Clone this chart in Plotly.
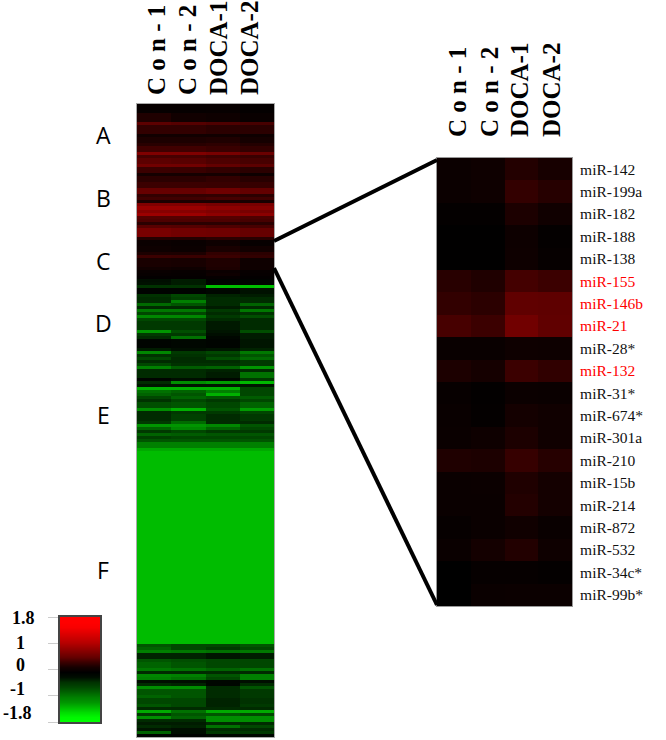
import plotly.graph_objects as go

W, H = 666, 740
samples = ["C o n - 1", "C o n - 2", "DOCA-1", "DOCA-2"]
columns = [0, 1, 2, 3]
main_label_at = [0.09, 0.99, 1.89, 2.80]
inset_label_at = [0.12, 1.07, 1.96, 2.91]

# (rows, Con-1, Con-2, DOCA-1, DOCA-2)
bands_upper = [
 (3,.04,.04,.05,.03),(3,.22,.12,.1,.06),(1,.65,.6,.55,.5),(3,.35,.35,.3,.3),(1,.12,.12,.12,.1),
 (2,.2,.2,.22,.15),(1,.28,.28,.32,.25),(2,.45,.45,.4,.35),(1,.9,.9,.85,.75),(1,.5,.5,.45,.4),
 (2,.65,.62,.55,.5),(1,.8,.8,.7,.65),(2,.42,.4,.35,.3),(1,.15,.15,.15,.1),(2,.3,.3,.35,.28),
 (2,.42,.42,.4,.38),(2,.72,.72,.78,.7),(1,.35,.35,.35,.3),(1,.45,.45,.5,.45),(1,.2,.2,.2,.18),
 (1,.9,.9,.85,.85),(1,1.08,1.08,1.0,.95),(1,.95,.95,.9,.85),(1,1.1,1.1,1.0,.98),(1,.6,.6,.6,.55),(1,.55,.55,.55,.5),(1,.3,.3,.3,.3),
 (1,.62,.6,.55,.5),(3,.85,.8,.78,.72),(1,.25,.25,.3,.28),
 (2,.08,.06,.1,.05),(2,.1,.08,.18,.12),
 (1,.2,.2,.35,.3),(1,.42,.4,.42,.35),(3,.18,.16,.22,.1),(1,.12,.1,.2,.1),(1,.06,.05,.08,.05),
 (1,.05,.04,.1,.04),(1,.02,.03,.04,.02),(1,-.1,-.2,-.02,-.02),(1,-.12,-.2,-.03,-.02),
]
bands_upper2 = [
 (1,-.35,-.35,-1.35,-1.35),(2,-.02,-.02,-.05,-.12),(1,-.35,-.5,-.25,-.2),(1,-.3,-.45,-.3,-.3),
 (1,-.3,-.9,-.3,-.3),(1,-.75,-.6,-.3,-.7),(1,-.3,-.3,-.2,-.3),(1,-.85,-.85,-.4,-.85),
 (1,-.5,-.5,-.3,-.35),(1,-.95,-.95,-.4,-.55),(1,-.5,-.5,-.3,-.3),(3,-.4,-.4,-.18,-.3),
 (1,-1.05,-.55,-.15,-.55),(1,-.4,-.4,-.1,-.2),(1,-.3,-.8,-.05,-.2),(3,-.03,-.05,-.03,-.15),
 (1,-.2,-.1,-.15,-.25),(1,-.95,-.4,-.5,-.85),(1,-.35,-.35,-.4,-.6),(1,-.5,-.3,-.55,-.75),
 (1,-.3,-.3,-.3,-.4),(1,-.5,-.35,-.35,-.4),(1,-.9,-.65,-.7,-1.05),(1,-.3,-.3,-.25,-.3),
 (2,-.3,-.3,-.2,-.8),(1,-.03,-.1,-.05,-.4),(1,-.3,-1.0,-1.1,-1.3),(1,-.15,-.15,-.15,-.15),
 (1,-1.25,-1.25,-1.25,-.5),(1,-.8,-.7,-.9,-.5),(1,-.7,-.6,-1.25,-.5),(1,-.5,-.7,-.6,-.65),
 (1,-.35,-.5,-.4,-.5),(2,-.55,-.6,-.5,-.7),(1,-1.0,-1.25,-.6,-1.1),(1,-.3,-.4,-.4,-.5),
 (2,-.3,-.45,-.3,-.4),(1,-.4,-.75,-.3,-.3),(1,-1.05,-1.05,-.95,-.6),(1,-.7,-.95,-.7,-.5),
 (1,-.4,-.5,-.4,-.4),(1,-.7,-.65,-.6,-.6),(1,-.45,-.5,-.5,-.5),(1,-.6,-.6,-.6,-.6),
 (2,-.9,-.9,-.9,-.9),(1,-1.2,-1.2,-1.2,-1.2),
]
bands_f = [(64,-1.33,-1.33,-1.33,-1.33)]
bands_lower = [
 (1,-.6,-.5,-.5,-.6),(1,-.7,-.5,-.4,-.5),(1,-.9,-.85,-.8,-.85),(2,-.25,-.25,-.15,-.2),
 (1,-.6,-.55,-.5,-.5),(2,-.7,-.6,-.5,-.5),(1,-.85,-.8,-.7,-.8),(1,-.3,-.3,-.3,-.3),
 (1,-.95,-.9,-.6,-.9),(1,-.9,-.8,-.5,-.9),(1,-.1,-.1,-.05,-.1),(1,-.3,-.25,-.05,-.3),
 (1,-1,-1,-.3,-.6),(2,-.6,-.6,-.3,-.4),(1,-.7,-.6,-.3,-.4),(2,-.5,-.5,-.25,-.35),
 (1,-.6,-.5,-.25,-.4),(1,-.3,-.3,-.3,-.3),(1,-1.2,-.8,-1.2,-1.2),(1,-.4,-.6,-.6,-.5),
 (1,-1,-.7,-1,-1),(1,-.3,-.3,-1,-1),(1,-.2,-.2,-.3,-.3),(1,-.3,-.25,-.8,-.5),
 (1,-.15,-.1,-.3,-.3),(1,-.7,-.1,-.4,-.4),(1,-.03,-.02,-.05,-.05),
]

mirnas = ["miR-142","miR-199a","miR-182","miR-188","miR-138","miR-155","miR-146b","miR-21","miR-28*","miR-132",
          "miR-31*","miR-674*","miR-301a","miR-210","miR-15b","miR-214","miR-872","miR-532","miR-34c*","miR-99b*"]
highlighted = ["miR-155","miR-146b","miR-21","miR-132"]
con1  = [.08,.08,.03,.01,.01,.28,.35,.5,.06,.2,.05,.06,.07,.22,.07,.07,.04,.07,0,0]
con2  = [.1,.1,.03,.01,.01,.22,.3,.42,.06,.15,.02,.03,.1,.2,.08,.07,.07,.14,.04,.07]
doca1 = [.25,.36,.2,.09,.1,.48,.68,.8,.1,.42,.08,.14,.2,.38,.22,.25,.11,.24,.04,.08]
doca2 = [.16,.27,.11,.03,.04,.42,.66,.68,.09,.34,.07,.11,.11,.27,.14,.14,.06,.1,.03,.08]

legend_levels = [1.8,1.8,1.75,1.6,1.45,1.3,1.1,.9,.7,.4,.15,0,-.1,-.35,-.5,-.7,-.9,-1.05,-1.3,-1.55,-1.75,-1.8]
legend_marks = [1.8,.9,0,-.9,-1.8]
legend_labels = ["1.8","1","0","-1","-1.8"]
letters = ["A","B","C","D","E","F"]

SCALE = [[0,"rgb(0,255,0)"],[.5,"rgb(0,0,0)"],[1,"rgb(255,0,0)"]]

rows = []
for n, a, b, c, d in bands_upper + bands_upper2 + bands_f + bands_lower:
    rows += [[a, b, c, d]] * n
inset = [list(t) for t in zip(con1, con2, doca1, doca2)]

def dom(a, b, size):
    return [a / size, b / size]

def ydom(top, bottom):
    return [1 - bottom / H, 1 - top / H]

fig = go.Figure()
common = dict(zmin=-1.8, zmax=1.8, colorscale=SCALE, showscale=False, hoverongaps=False)
fig.add_trace(go.Heatmap(z=rows, x=columns, y=list(range(len(rows))), xaxis="x", yaxis="y", **common))
fig.add_trace(go.Heatmap(z=inset, x=columns, y=mirnas, xaxis="x2", yaxis="y2", **common))
fig.add_trace(go.Heatmap(z=[[v] for v in legend_levels], x=["scale"],
                         y=[1.8 - 3.6 * i / (len(legend_levels) - 1) for i in range(len(legend_levels))],
                         xaxis="x3", yaxis="y3", zsmooth="best", **common))

top_font = dict(family="Liberation Serif", size=25, color="black")
bold = [f"<b>{n}</b>" for n in samples]
fig.update_layout(
    width=W, height=H, margin=dict(l=0, r=0, t=0, b=0, autoexpand=False), paper_bgcolor="white", plot_bgcolor="white",
    showlegend=False,
    xaxis=dict(domain=dom(137, 274, W), side="top", anchor="y", tickangle=-90, tickfont=top_font, ticks="",
               range=[-.5, 3.5], tickmode="array", tickvals=main_label_at, ticktext=bold, ticklabelstandoff=3,
               automargin=False,
               showgrid=False, zeroline=False, showline=True, mirror=True, linecolor="#aaaaaa", linewidth=1),
    yaxis=dict(domain=ydom(104, 737), autorange="reversed", showticklabels=False, ticks="", showgrid=False,
               zeroline=False, showline=True, mirror=True, linecolor="#aaaaaa", linewidth=1),
    xaxis2=dict(domain=dom(437, 572, W), side="top", anchor="y2", tickangle=-90, tickfont=top_font, ticks="",
                range=[-.5, 3.5], tickmode="array", tickvals=inset_label_at, ticktext=bold, ticklabelstandoff=15,
                automargin=False,
                showgrid=False, zeroline=False, showline=True, mirror=True, linecolor="#999999", linewidth=1),
    yaxis2=dict(domain=ydom(158, 606), anchor="x2", side="right", autorange="reversed", ticks="", showgrid=False,
                zeroline=False, showline=True, mirror=True, linecolor="#999999", linewidth=1, automargin=False,
                tickmode="array", tickvals=mirnas, ticklabelstandoff=4,
                ticktext=[f'<span style="color:#ff0000">{m}</span>' if m in highlighted else m for m in mirnas],
                tickfont=dict(family="Liberation Serif", size=15.5, color="#111111")),
    xaxis3=dict(domain=dom(60, 100, W), anchor="y3", showticklabels=False, ticks="", showgrid=False, zeroline=False,
                showline=True, mirror=True, linecolor="#444444", linewidth=1.5),
    yaxis3=dict(domain=ydom(617, 722), anchor="x3", range=[-1.8, 1.8], tickmode="array", tickvals=legend_marks,
                showticklabels=False, ticks="outside", ticklen=10, tickcolor="#cccccc", showgrid=False,
                zeroline=False, showline=True, mirror=True, linecolor="#444444", linewidth=1.5),
)

# connector lines from the main heat map to the enlarged panel
for x0, y0, x1, y1 in [(274, 241, 437, 160), (274, 268, 437, 605)]:
    fig.add_shape(type="line", xref="paper", yref="paper", x0=x0 / W, x1=x1 / W, y0=1 - y0 / H, y1=1 - y1 / H,
                  line=dict(color="black", width=4))

for t, y in zip(letters, [135, 198, 261, 323, 415, 570]):
    fig.add_annotation(text=t, xref="paper", yref="paper", x=103 / W, y=1 - y / H, showarrow=False,
                       xanchor="center", yanchor="middle", font=dict(family="Open Sans", size=23, color="black"))

for v, x, y in zip(legend_labels, [23, 20, 20, 17, 17], [618, 643, 665, 689, 713]):
    fig.add_annotation(text=f"<b>{v}</b>", xref="paper", yref="paper", x=x / W, y=1 - y / H,
                       showarrow=False, xanchor="center", yanchor="middle",
                       font=dict(family="Liberation Serif", size=18, color="black"))

fig.write_html("out.html", config={"displayModeBar": False},
               post_script="document.body.style.margin='0';document.documentElement.style.overflow='hidden';")
